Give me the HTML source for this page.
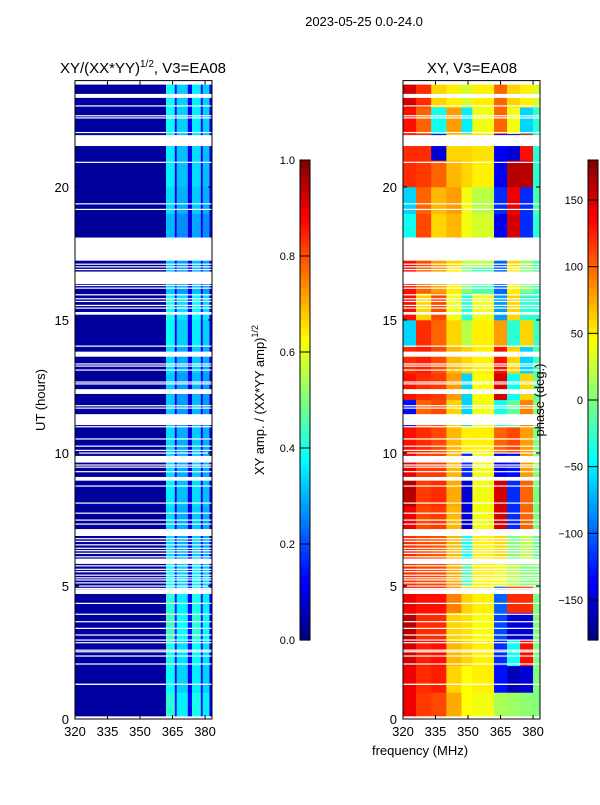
<!DOCTYPE html>
<html><head><meta charset="utf-8"><style>
body{margin:0;background:#fff;}
svg text{font-family:"Liberation Sans","DejaVu Sans",sans-serif;fill:#000;}
</style></head><body>
<svg id="fig" width="600" height="800" xmlns="http://www.w3.org/2000/svg">
<rect width="600" height="800" fill="#fff"/>
<text x="364" y="26" font-size="13" text-anchor="middle">2023-05-25 0.0-24.0</text>
<text x="143" y="73" font-size="15" text-anchor="middle">XY/(XX*YY)<tspan font-size="10" dy="-6">1/2</tspan><tspan dy="6">, V3=EA08</tspan></text>
<text x="472" y="73" font-size="15" text-anchor="middle">XY, V3=EA08</text>
<g id="ampPlot"></g>
<g id="phPlot"></g>
<g id="axes"></g>
<g id="cb1"></g>
<g id="cb2"></g>
<text transform="translate(45,400) rotate(-90)" font-size="13" text-anchor="middle">UT (hours)</text>
<text transform="translate(264,400) rotate(-90)" font-size="13" text-anchor="middle">XY amp. / (XX*YY amp)<tspan font-size="9" dy="-6">1/2</tspan></text>
<text transform="translate(544,400) rotate(-90)" font-size="13" text-anchor="middle">phase (deg.)</text>
<text x="420" y="755" font-size="13" text-anchor="middle">frequency (MHz)</text>
</svg>
<script>
// ---- data ----
const freqTicks = [320, 335, 350, 365, 380];
const hourTicks = [0, 5, 10, 15, 20];
const ampTicks = [0.0, 0.2, 0.4, 0.6, 0.8, 1.0];
const phaseTicks = [-150, -100, -50, 0, 50, 100, 150];
const ampBandEdges = [320, 362, 366, 367, 372, 374, 378, 379, 382, 384];
const ampBandBase = [0.03, 0.38, 0.14, 0.33, 0.12, 0.36, 0.14, 0.33, 0.1];
const ampHourFactor = [1.1, 1.0, 1.05, 1.15, 1.1, 1.0, 0.9, 0.9, 0.95, 0.9, 0.9, 0.85, 0.85, 0.9, 1.0, 1.05, 0.85, 0.85, 0.8, 0.9, 0.95, 0.95, 1.0, 1.0];
const phaseBandEdges = [320, 326, 333, 340, 347, 352, 362, 368, 374, 380, 384];
const phaseRows = [
 [140, 115, 110, 75, 45, 40, 15, 10, 5, 0],
 [140, 120, 125, 60, 45, 50, -130, -160, -150, 0],
 [150, 125, 130, 70, 60, 50, -120, -40, 130, 0],
 [160, 120, 120, 60, 55, 45, -110, -150, -150, 0],
 [140, 130, 130, 90, 60, 50, -100, 120, 120, 0],
 [120, 110, 110, 75, -20, 50, 40, 20, 0, 0],
 [120, 110, 105, 70, -40, 50, 60, 0, 20, -10],
 [140, 110, 115, 70, -150, 40, 150, -120, 100, 0],
 [160, 115, 120, 75, -150, 40, 150, -120, 100, 0],
 [140, 115, 115, 70, -120, 40, -140, -130, 80, 0],
 [130, 120, 110, 70, 50, 50, 100, 110, 80, 0],
 [-130, 100, 110, 60, -60, 40, -40, -10, 90, 0],
 [130, 120, 115, 80, -60, 45, 150, -40, 60, -10],
 [120, 125, 110, 70, 60, 50, 130, 60, -60, -20],
 [-60, 120, 100, 60, 20, 50, 80, -30, 60, -20],
 [130, 60, 110, 40, -30, 40, -80, 60, -30, -30],
 [130, 100, 80, 50, 0, -20, -100, 50, 0, -20],
 [130, 110, 80, 60, 20, 20, -100, 60, 10, -20],
 [-40, 110, 60, 70, 40, 30, -140, 150, -120, -30],
 [-60, 100, 70, 80, 40, 20, -120, 140, -120, -20],
 [120, 115, 100, 70, 60, 50, -140, 160, 160, -30],
 [120, 120, -150, 60, 60, 55, -140, -150, 130, -30],
 [130, 100, -40, 80, -50, 40, 100, 40, -60, -30],
 [150, 120, 60, 50, 30, 50, 100, 60, 50, 30]
];
const gaps = [[0,0.1],[1.28,1.33],[2.05,2.09],[2.35,2.39],[2.51,2.55],[2.57,2.61],[2.85,2.89],[2.95,2.99],[3.14,3.18],[3.39,3.43],[3.64,3.68],[3.92,3.96],[4.33,4.37],[4.7,4.88],[4.89,4.93],[4.98,5.02],[5.1,5.14],[5.21,5.25],[5.29,5.33],[5.39,5.43],[5.52,5.56],[5.61,5.65],[5.74,5.78],[5.83,6.03],[6.08,6.12],[6.21,6.25],[6.31,6.35],[6.4,6.44],[6.53,6.57],[6.66,6.7],[6.76,6.8],[6.88,7.14],[7.31,7.35],[7.46,7.5],[7.72,7.76],[8.1,8.14],[8.74,8.78],[8.96,9.1],[9.28,9.32],[9.45,9.49],[9.53,9.57],[9.64,9.89],[9.98,10.02],[10.08,10.12],[10.24,10.28],[10.51,10.55],[10.97,11.01],[11.05,11.46],[11.67,11.71],[11.76,11.8],[12.22,12.4],[12.58,12.62],[12.65,12.69],[13.1,13.14],[13.25,13.29],[13.33,13.37],[13.62,13.81],[14.0,14.04],[15.2,15.3],[15.43,15.47],[15.53,15.57],[15.68,15.72],[15.78,15.82],[15.93,15.97],[16.18,16.22],[16.28,16.32],[16.35,16.82],[16.88,16.92],[16.98,17.02],[17.08,17.12],[17.23,18.1],[19.14,19.18],[19.35,19.39],[20.91,20.95],[21.54,21.95],[22.03,22.07],[22.58,22.62],[22.66,22.7],[23.03,23.07],[23.35,23.5],[23.85,24]];

// ---- geometry ----
const NS = "http://www.w3.org/2000/svg";
const T0 = 80.6, B0 = 719;
const fMin = 320, fMax = 383.2;
const panels = [{x0:75, x1:212}, {x0:403, x1:540}];
function yOf(h){ return B0 - (B0 - T0) * h / 24; }
function xOf(p, f){ return p.x0 + (p.x1 - p.x0) * (f - fMin) / (fMax - fMin); }
function jet(v){
  v = Math.max(0, Math.min(1, v));
  const r = Math.max(0, Math.min(1, 1.5 - Math.abs(4*v - 3)));
  const g = Math.max(0, Math.min(1, 1.5 - Math.abs(4*v - 2)));
  const b = Math.max(0, Math.min(1, 1.5 - Math.abs(4*v - 1)));
  return `rgb(${Math.round(r*255)},${Math.round(g*255)},${Math.round(b*255)})`;
}
function mk(tag, attrs, parent){
  const e = document.createElementNS(NS, tag);
  for (const k in attrs) e.setAttribute(k, attrs[k]);
  parent.appendChild(e);
  return e;
}
const ampG = document.getElementById('ampPlot');
const phG = document.getElementById('phPlot');
for (let h = 0; h < ampHourFactor.length; h++) {
  for (let b = 0; b < ampBandBase.length; b++) {
    const p = panels[0];
    const x = xOf(p, ampBandEdges[b]), x2 = Math.min(xOf(p, ampBandEdges[b+1]), p.x1);
    const y = yOf(h+1), y2 = yOf(h);
    const r = mk('rect', {x:x, y:y, width:Math.max(0,x2-x), height:y2-y+0.3, fill:jet(ampBandBase[b]*ampHourFactor[h])}, ampG);
    
    
  }
}
for (let h = 0; h < phaseRows.length; h++) {
  for (let b = 0; b < phaseRows[h].length; b++) {
    const p = panels[1];
    const x = xOf(p, phaseBandEdges[b]), x2 = Math.min(xOf(p, phaseBandEdges[b+1]), p.x1);
    const y = yOf(h+1), y2 = yOf(h);
    const r = mk('rect', {x:x, y:y, width:Math.max(0,x2-x)+0.3, height:y2-y+0.3, fill:jet((phaseRows[h][b]+180)/360)}, phG);
    
    
  }
}
const ax = document.getElementById('axes');
panels.forEach((p, i) => {
  const g = i === 0 ? ampG : phG;
  gaps.forEach(gp => {
    const r = mk('rect', {x:p.x0, y:yOf(gp[1]), width:p.x1-p.x0, height:Math.max(1.2, yOf(gp[0])-yOf(gp[1])), fill:'#fff'}, g);
    
    
  });
  const fr = mk('rect', {x:p.x0, y:T0, width:p.x1-p.x0, height:B0-T0, fill:'none', stroke:'#000', 'stroke-width':1}, ax);
  
  
  freqTicks.forEach(f => {
    const x = xOf(p, f);
    mk('line', {x1:x, x2:x, y1:B0, y2:B0-4, stroke:'#000'}, ax);
    mk('line', {x1:x, x2:x, y1:T0, y2:T0+4, stroke:'#000'}, ax);
    const t = mk('text', {x:x, y:B0+17, 'font-size':13, 'text-anchor':'middle'}, ax);
    t.textContent = f;
    
    
  });
  hourTicks.forEach(h => {
    const y = yOf(h);
    mk('line', {x1:p.x0, x2:p.x0+4, y1:y, y2:y, stroke:'#000'}, ax);
    mk('line', {x1:p.x1, x2:p.x1-4, y1:y, y2:y, stroke:'#000'}, ax);
    const t = mk('text', {x:p.x0-6, y:y+5, 'font-size':13, 'text-anchor':'end'}, ax);
    t.textContent = h;
    
    
  });
});
function colorbar(gid, x, vmin, vmax, ticks, fmt){
  const g = document.getElementById(gid);
  const top = 160, bot = 640, w = 10, n = 120;
  for (let i = 0; i < n; i++) {
    mk('rect', {x:x, y:top + (bot-top)*i/n, width:w, height:(bot-top)/n + 0.6, fill:jet(1 - (i+0.5)/n)}, g);
  }
  mk('rect', {x:x, y:top, width:w, height:bot-top, fill:'none', stroke:'#000'}, g);
  ticks.forEach(v => {
    const y = bot - (bot-top)*(v - vmin)/(vmax - vmin);
    mk('line', {x1:x, x2:x+w, y1:y, y2:y, stroke:'#000'}, g);
    const t = mk('text', {x:x-5, y:y+4, 'font-size':11, 'text-anchor':'end'}, g);
    t.textContent = fmt(v);
    
    
  });
}
colorbar('cb1', 300, 0, 1, ampTicks, v => v.toFixed(1));
colorbar('cb2', 588, -180, 180, phaseTicks, v => v < 0 ? '\u2212' + Math.abs(v) : String(v));
</script>
</body></html>
